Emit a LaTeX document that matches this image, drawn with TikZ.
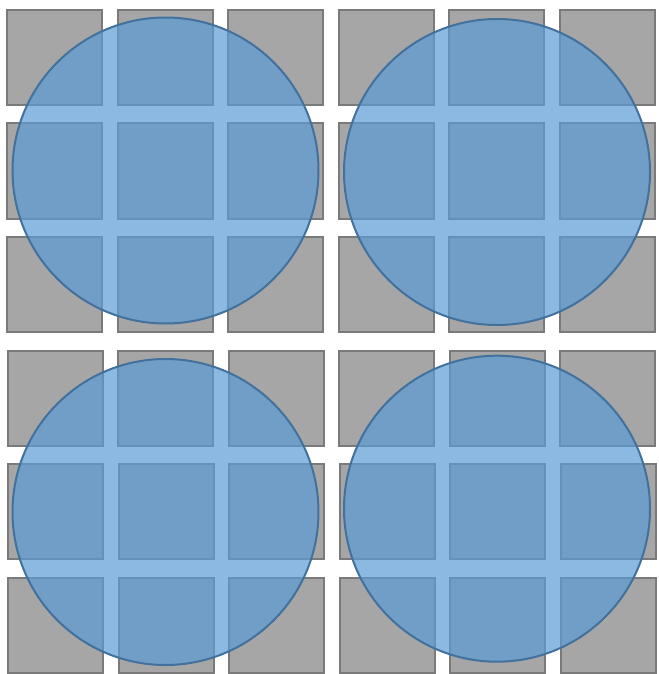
\documentclass[tikz,border=0pt]{standalone}
\definecolor{sqfill}{HTML}{A6A6A6}
\definecolor{sqline}{HTML}{7A7A7A}
\definecolor{cfill}{HTML}{5B9BD5}
\definecolor{cline}{HTML}{41719C}
\begin{document}
\begin{tikzpicture}[x=1pt,y=-1pt,
  sq/.style={fill=sqfill,draw=sqline,line width=2pt},
  blob/.style={fill=cfill,fill opacity=0.7,draw=cline,draw opacity=1,line width=2pt}]
\useasboundingbox (0,0) rectangle (658,674);
\foreach \r/\yy/\dx in {0/9/0,1/122.5/0,2/236/0,3/349.5/0.5,4/463/1,5/576.5/1}{
  \foreach \c in {0,...,5}{
    \pgfmathsetmacro{\xx}{6+110.5*\c+\dx}
    \draw[sq] (\xx+1,\yy+1) rectangle (\xx+96,\yy+96);
  }
}
\draw[blob] (165.5,170.5) circle (153);
\draw[blob] (497,172) circle (153);
\draw[blob] (165.5,512) circle (153);
\draw[blob] (497,508.7) circle (153);
\end{tikzpicture}
\end{document}
